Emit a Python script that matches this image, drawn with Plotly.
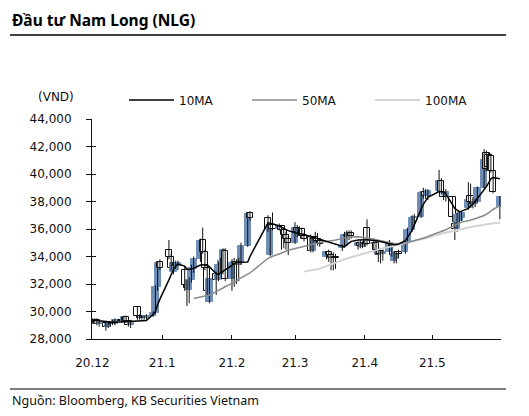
import plotly.graph_objects as go

# ---------------- data ----------------
dates = (
    ["2020-12-%02d" % d for d in [1,2,3,4,7,8,9,10,11,14,15,16,17,18,21,22,23,24,25,28,29,30,31]]
    + ["2021-01-%02d" % d for d in [4,5,6,7,8,11,12,13,14,15,18,19,20,21,22,25,26,27,28,29]]
    + ["2021-02-%02d" % d for d in [1,2,3,4,5,8,9,17,18,19,22,23,24,25,26]]
    + ["2021-03-%02d" % d for d in [1,2,3,4,5,8,9,10,11,12,15,16,17,18,19,22,23,24,25,26,29,30,31]]
    + ["2021-04-%02d" % d for d in [1,2,5,6,7,8,9,12,13,14,15,16,19,20,22,23,26,27,28,29]]
    + ["2021-05-%02d" % d for d in [4,5,6,7,10,11,12,13,14,17,18,19,20,21,24,25,26,27,28,31]]
)

open_ = [29400,29300,29400,29100,29200,28900,29100,29200,29100,29400,29300,29600,29300,29000,30300,29700,29500,29600,29500,29700,29900,31800,33600,
         34500,34000,32900,33500,33300,33000,31900,31600,32300,33100,33800,35200,34300,33200,30700,32700,32300,33300,32900,34400,
         32400,33500,33600,33400,33500,34800,37200,36800,34100,36300,36000,36200,35900,35600,35300,
         35000,36100,35800,36000,35500,35400,34400,35400,35300,35100,34000,34300,34100,33900,34000,34600,34800,35600,35500,35700,34800,35000,34700,
         35000,36100,34900,35000,34100,34400,34200,34300,34900,33700,33800,34300,34300,35000,35900,36800,36900,38600,38700,38400,
         38800,39500,38700,38400,38300,36400,36000,36600,36800,37500,38400,38000,37800,38000,39000,41500,41400,41300,40200,37600]
high = [29500,29500,29500,29300,29300,29200,29300,29400,29500,29600,29700,29700,29400,29300,30400,29800,29700,29700,29800,30000,31900,33600,33800,
        35200,34200,33700,33700,33700,33300,32300,32500,33400,34000,35300,36100,34500,33400,32600,32900,33600,33900,34600,34600,
        33800,33900,33800,33900,35000,37200,37300,37000,36400,37200,36400,36300,36100,35800,35500,
        36500,36300,36200,36100,35700,35600,35500,35800,35700,35300,34400,34500,34300,34300,34200,34900,35800,35900,35900,35900,35100,35200,35100,
        35300,36700,35300,35200,34500,34600,34500,35200,35000,34300,34400,34500,35100,36100,37000,37100,38700,39000,38900,38900,
        40300,39700,39000,38900,38400,36500,37200,37200,37300,39400,39300,38300,38200,39100,41800,41700,41600,41500,40300,38400]
low = [29100,29200,29000,28900,28600,28800,28900,29000,29000,29200,29200,29200,28900,28800,29400,29400,29400,29400,29400,29600,29800,31500,33000,
       33800,33000,32700,33100,33000,31500,30400,30600,32100,32800,33600,34200,33000,31200,30600,31200,32200,32800,32700,32200,
       31500,31800,32000,32200,33400,34700,36600,35800,34000,35900,35900,34500,34600,34500,34100,
       34900,35400,35500,35300,35100,34300,34300,35000,34800,34700,33800,33600,33000,33000,33100,34400,34700,35300,35200,35300,34500,34600,34600,
       34700,34800,34300,34100,33600,33500,33700,34100,34000,33500,33500,33900,34200,34900,35800,36300,36800,38200,38200,38100,
       38700,38500,38100,38000,36500,35200,35800,36500,36600,37400,37800,37500,37600,37900,38900,40200,40300,40100,38600,36700]
close = [29300,29400,29100,29200,28900,29100,29200,29100,29400,29300,29600,29300,29000,29200,29700,29500,29600,29500,29700,29900,31800,33500,33200,
         34000,33200,33500,33300,33500,31900,31700,32300,33200,33800,35100,34300,33200,31500,32400,32300,33400,33700,34500,32400,
         33500,33600,33400,33600,34800,37100,36800,36000,36300,36000,36200,35900,35600,35300,35000,
         36100,35800,36000,35500,35300,34400,35400,35300,35100,34900,34300,34100,33900,34000,33900,34800,35600,35500,35700,35500,35000,34800,35000,
         34900,34900,35000,34500,34400,34200,34300,34900,34800,34200,34300,34200,35000,35900,36800,36900,38600,38700,38400,38800,
         39500,38700,38300,38700,36900,36000,37000,37100,37200,38100,38000,37800,38000,39000,41000,40400,40500,40200,38700,38300]

ma10 = [29380,29360,29340,29310,29250,29220,29200,29210,29220,29250,29250,29250,29250,29250,29290,29300,29310,29320,29340,29800,30000,30500,30900,
        32300,32700,33050,33300,33450,33300,33080,33050,33100,33150,33380,33400,33400,33400,33250,32750,32700,32800,32900,33000,
        33350,33500,33580,33600,33580,33600,34000,36450,36420,36380,36220,36150,36050,35950,35880,
        35730,35700,35650,35620,35600,35450,35400,35330,35260,35200,35080,35050,35000,34930,34850,34720,34700,34850,35000,35100,35200,35220,35220,
        35220,35220,35200,35150,35120,35080,35050,34950,34870,34850,34870,34900,35150,35400,35900,36300,37500,37800,38050,38300,
        38720,38720,38710,38550,37750,37500,37380,37260,37300,37500,37680,37800,38000,38200,38800,39080,39350,39650,39740,39650]
ma50 = [None]*32 + [30950,31050,31100,31130,31170,31200,31450,31550,31650,31740,31800,
        32050,32120,32220,32350,32450,32700,32800,33870,33950,34020,34180,34230,34300,34380,34450,
        34580,34620,34660,34700,34750,34860,34900,34940,34980,35010,35090,35110,35140,35160,35200,35300,35330,35360,35390,35420,35430,35420,35400,
        35380,35350,35250,35210,35170,35130,35100,35000,34960,34940,34930,34930,34980,35020,35100,35140,35250,35310,35380,35450,
        35750,35820,35880,35940,36200,36280,36350,36450,36500,36600,36640,36680,36740,36800,36980,37060,37170,37300,37420,37700]
ma100 = [None]*62 + [32900,32960,32990,33030,33070,33120,33320,33380,33440,33500,33560,33760,33800,33850,33890,33940,34080,34130,34180,
         34230,34280,34430,34470,34510,34550,34590,34700,34740,34770,34800,34840,34950,34990,35060,35100,35240,35280,35320,35360,
         35620,35660,35700,35740,35880,35920,35960,36000,36030,36110,36140,36170,36200,36230,36300,36330,36360,36390,36410,36450]

tick_vals = ["2020-12-01", "2021-01-01", "2021-02-01", "2021-03-01", "2021-04-01", "2021-05-01"]
tick_text = ["20.12", "21.1", "21.2", "21.3", "21.4", "21.5"]
y_ticks = [28000, 30000, 32000, 34000, 36000, 38000, 40000, 42000, 44000]

# ---------------- styles ----------------
BLUE = "#6f8fb9"
FONT_AX = "DejaVu Sans"
FONT_TXT = "Noto Sans"

fig = go.Figure()

# high-low lines
wx, wy = [], []
for d, h, l in zip(dates, high, low):
    wx += [d, d, None]
    wy += [l, h, None]
fig.add_trace(go.Scatter(x=wx, y=wy, mode="lines", line=dict(color="#111111", width=1),
                         showlegend=False, hoverinfo="skip"))

# bodies (blue = up, white = down)
up = [c >= o for o, c in zip(open_, close)]
fig.add_trace(go.Bar(
    x=dates, base=open_, y=[c - o for o, c in zip(open_, close)],
    width=86400000 * 2.8,
    marker=dict(color=[BLUE if u else "white" for u in up],
                line=dict(color=[BLUE if u else "#111111" for u in up], width=1)),
    showlegend=False, hoverinfo="skip"))

fig.add_trace(go.Scatter(x=dates, y=ma100, name="100MA", mode="lines",
                         line=dict(color="#d4d4d4", width=2)))
fig.add_trace(go.Scatter(x=dates, y=ma50, name="50MA", mode="lines",
                         line=dict(color="#8a8a8a", width=1.5)))
fig.add_trace(go.Scatter(x=dates, y=ma10, name="10MA", mode="lines",
                         line=dict(color="#000000", width=1.5)))
# overlay axis carrying the inner half of the crossing y ticks
fig.add_trace(go.Scatter(x=[dates[0]], y=[None], yaxis="y2", showlegend=False, hoverinfo="skip"))

fig.update_layout(
    width=529, height=416,
    margin=dict(l=92, r=28, t=119, b=77, autoexpand=False),
    paper_bgcolor="white", plot_bgcolor="white",
    bargap=0, showlegend=True,
    legend=dict(orientation="h", traceorder="reversed",
                x=124 / 529, xref="container", xanchor="left",
                y=1 - 100 / 416, yref="container", yanchor="middle",
                font=dict(family=FONT_AX, size=12, color="#111111"),
                entrywidth=63, entrywidthmode="pixels", itemwidth=45,
                bgcolor="rgba(0,0,0,0)"),
    xaxis=dict(type="date", range=["2020-11-30 20:00", "2021-05-31 12:00"],
               tickvals=tick_vals, ticktext=tick_text,
               ticks="inside", ticklen=4, tickcolor="#111111",
               showline=True, linecolor="#111111", linewidth=1,
               showgrid=False, zeroline=False, ticklabelstandoff=13,
               tickfont=dict(family=FONT_AX, size=12, color="#111111")),
    yaxis=dict(range=[28000, 44000], tickvals=y_ticks, tickformat=",",
               ticks="outside", ticklen=5, tickcolor="#111111",
               showline=True, linecolor="#111111", linewidth=1,
               showgrid=False, zeroline=False, ticklabelstandoff=12,
               tickfont=dict(family=FONT_AX, size=12, color="#111111")),
    yaxis2=dict(range=[28000, 44000], tickvals=y_ticks, overlaying="y", side="left",
                ticks="inside", ticklen=4, tickcolor="#111111", showticklabels=False,
                showline=False, showgrid=False, zeroline=False),
    annotations=[
        dict(text="<b>Đầu tư Nam Long (NLG)</b>", xref="paper", yref="paper",
             x=-82 / 409, y=1 + (119 - 20) / 220, xanchor="left", yanchor="middle",
             showarrow=False, font=dict(family=FONT_TXT, size=15.5, color="#000000")),
        dict(text="(VND)", xref="paper", yref="paper",
             x=-56 / 409, y=1 + (119 - 97) / 220, xanchor="left", yanchor="middle",
             showarrow=False, font=dict(family=FONT_AX, size=12, color="#111111")),
        dict(text="Nguồn: Bloomberg, KB Securities Vietnam", xref="paper", yref="paper",
             x=-82 / 409, y=-(400 - 339) / 220, xanchor="left", yanchor="middle",
             showarrow=False, font=dict(family=FONT_TXT, size=12.5, color="#111111")),
    ],
    shapes=[
        dict(type="line", xref="paper", yref="paper", x0=-82 / 409, x1=414 / 409,
             y0=1 + (119 - 35) / 220, y1=1 + (119 - 35) / 220, line=dict(color="#000000", width=1.5)),
        dict(type="line", xref="paper", yref="paper", x0=-82 / 409, x1=414 / 409,
             y0=-(389 - 339) / 220, y1=-(389 - 339) / 220, line=dict(color="#000000", width=1)),
    ],
)

fig.write_html("out.html", post_script="document.body.style.margin='0';",
               config={"displayModeBar": False})
